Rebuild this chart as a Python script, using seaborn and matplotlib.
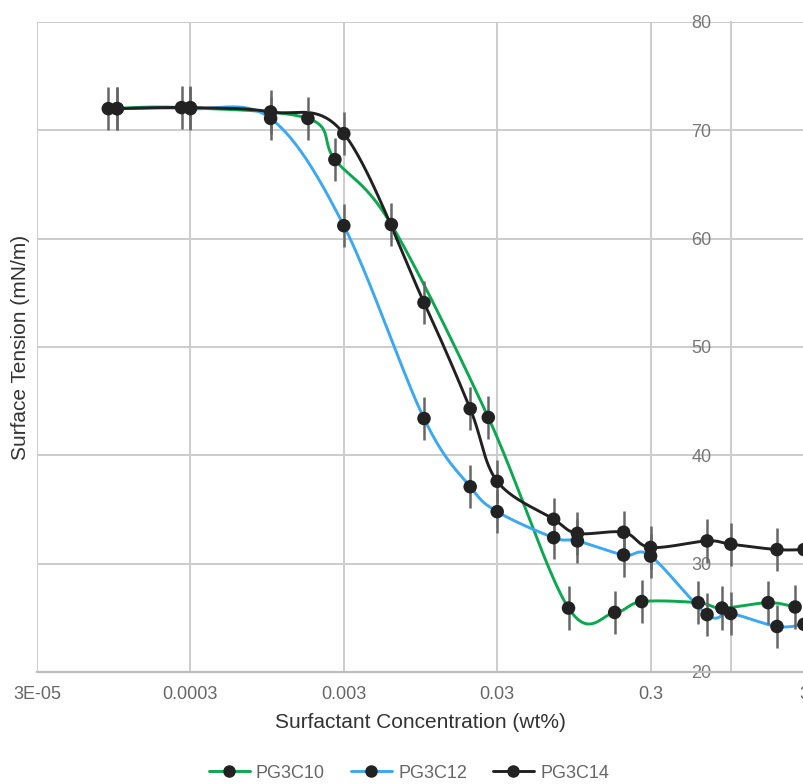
import numpy as np
import pandas as pd
import matplotlib
matplotlib.use("Agg")
import matplotlib.pyplot as plt
from matplotlib.lines import Line2D
from matplotlib.ticker import FixedLocator, NullLocator, FixedFormatter
import seaborn as sns

# Surface tension isotherms (mN/m) vs surfactant concentration (wt%)
series_names = ["PG3C10", "PG3C12", "PG3C14"]

conc_c10 = [8.75e-5, 2.625e-4, 1.75e-3, 2.625e-3, 6.125e-3, 0.02625,
            0.0875, 0.175, 0.2625, 0.6125, 0.875, 1.75, 2.625]
st_c10 = [72.0, 72.1, 71.1, 67.3, 61.3, 43.5,
          25.9, 25.5, 26.5, 26.4, 25.9, 26.4, 26.0]

conc_c12 = [1e-4, 3e-4, 1e-3, 3e-3, 0.01, 0.02, 0.03,
            0.07, 0.1, 0.2, 0.3, 0.7, 1.0, 2.0, 3.0]
st_c12 = [72.0, 72.0, 71.1, 61.2, 43.4, 37.1, 34.8,
          32.4, 32.1, 30.8, 30.7, 25.3, 25.4, 24.2, 24.4]

conc_c14 = [1e-4, 3e-4, 1e-3, 3e-3, 0.01, 0.02, 0.03,
            0.07, 0.1, 0.2, 0.3, 0.7, 1.0, 2.0, 3.0]
st_c14 = [72.0, 72.1, 71.7, 69.7, 54.1, 44.3, 37.6,
          34.1, 32.8, 32.9, 31.5, 32.1, 31.8, 31.3, 31.3]

err_c10 = [2.0] * len(conc_c10)
err_c12 = [2.0] * len(conc_c12)
err_c14 = [2.0] * len(conc_c14)

x_ticks = [3e-5, 3e-4, 3e-3, 3e-2, 0.3, 3]
x_tick_labels = ["3E-05", "0.0003", "0.003", "0.03", "0.3", "3"]
y_ticks = [20, 30, 40, 50, 60, 70, 80]

colors = ["#0aa84f", "#3aa8f2", "#212121"]

rows = []
for name, xs, ys, es in zip(series_names,
                            [conc_c10, conc_c12, conc_c14],
                            [st_c10, st_c12, st_c14],
                            [err_c10, err_c12, err_c14]):
    for x, y, e in zip(xs, ys, es):
        rows.append({"series": name, "conc": x, "tension": y, "err": e})
df = pd.DataFrame(rows)


def smooth_curve(xs, ys, n=40):
    """Catmull-Rom (Bezier) smoothing through the points, in log-x space."""
    lx = np.log10(np.asarray(xs, float))
    y = np.asarray(ys, float)
    px = np.concatenate([[lx[0]], lx, [lx[-1]]])
    py = np.concatenate([[y[0]], y, [y[-1]]])
    out_x, out_y = [], []
    t = np.linspace(0, 1, n)
    for i in range(1, len(px) - 2):
        p0 = np.array([px[i], py[i]])
        p3 = np.array([px[i + 1], py[i + 1]])
        c1 = p0 + (np.array([px[i + 1], py[i + 1]]) - np.array([px[i - 1], py[i - 1]])) / 6
        c2 = p3 - (np.array([px[i + 2], py[i + 2]]) - np.array([px[i], py[i]])) / 6
        b = ((1 - t) ** 3)[:, None] * p0 + (3 * (1 - t) ** 2 * t)[:, None] * c1 \
            + (3 * (1 - t) * t ** 2)[:, None] * c2 + (t ** 3)[:, None] * p3
        out_x.append(b[:, 0])
        out_y.append(b[:, 1])
    return 10 ** np.concatenate(out_x), np.concatenate(out_y)


sns.set_theme(style="white")
plt.rcParams["font.family"] = ["Liberation Sans", "DejaVu Sans"]

fig = plt.figure(figsize=(8.04, 7.84), dpi=100)
ax = fig.add_axes([37 / 804, 112 / 784, 767 / 804, 650 / 784])

ax.set_xscale("log")
ax.set_xlim(3e-5, 3)
ax.set_ylim(20, 80)

grid_color = "#cccccc"
ax.xaxis.set_major_locator(FixedLocator(x_ticks))
ax.xaxis.set_major_formatter(FixedFormatter(x_tick_labels))
ax.xaxis.set_minor_locator(NullLocator())
ax.yaxis.set_major_locator(FixedLocator(y_ticks))
ax.grid(True, color=grid_color, linewidth=1.4)
ax.set_axisbelow(True)

# value axis crosses the category axis at x = 1
for side in ["top", "right"]:
    ax.spines[side].set_visible(False)
ax.spines["left"].set_position(("data", 1.0))
ax.spines["left"].set_color(grid_color)
ax.spines["left"].set_linewidth(1.4)
ax.spines["bottom"].set_color("#bdbdbd")
ax.spines["bottom"].set_linewidth(1.6)

ax.tick_params(axis="x", length=0, pad=10, labelsize=13, labelcolor="#666666")
ax.tick_params(axis="y", length=0, pad=14, labelsize=13, labelcolor="#777777")

for name, color in zip(series_names, colors):
    sub = df[df["series"] == name]
    sx, sy = smooth_curve(sub["conc"].values, sub["tension"].values)
    curve = pd.DataFrame({"conc": sx, "tension": sy})
    sns.lineplot(data=curve, x="conc", y="tension", sort=False, estimator=None,
                 color=color, linewidth=2.1, ax=ax, zorder=3)
    ax.errorbar(sub["conc"], sub["tension"], yerr=sub["err"], fmt="none",
                ecolor="#666666", elinewidth=1.8, capsize=0, zorder=4)
    sns.scatterplot(data=sub, x="conc", y="tension", color="#222222", s=95,
                    edgecolor="none", ax=ax, zorder=5, legend=False)

ax.set_xlabel("Surfactant Concentration (wt%)", fontsize=15, color="#333333")
ax.xaxis.set_label_coords(0.5, -50 / 650)
ax.xaxis.label.set_verticalalignment("center")
ax.set_ylabel("Surface Tension (mN/m)", fontsize=15, color="#333333")
ax.yaxis.set_label_coords(-16 / 767, 0.5)
ax.yaxis.label.set_verticalalignment("center")

handles = [Line2D([0], [0], color=c, linewidth=2.1, marker="o", markersize=8,
                  markerfacecolor="#222222", markeredgecolor="#222222")
           for c in colors]
fig.legend(handles, series_names, loc="center", bbox_to_anchor=(409 / 804, 1 - 773 / 784),
           ncol=3, frameon=False, fontsize=13, labelcolor="#666666",
           handlelength=2.25, handletextpad=0.35, columnspacing=1.45)

fig.savefig("out.png", dpi=100)
